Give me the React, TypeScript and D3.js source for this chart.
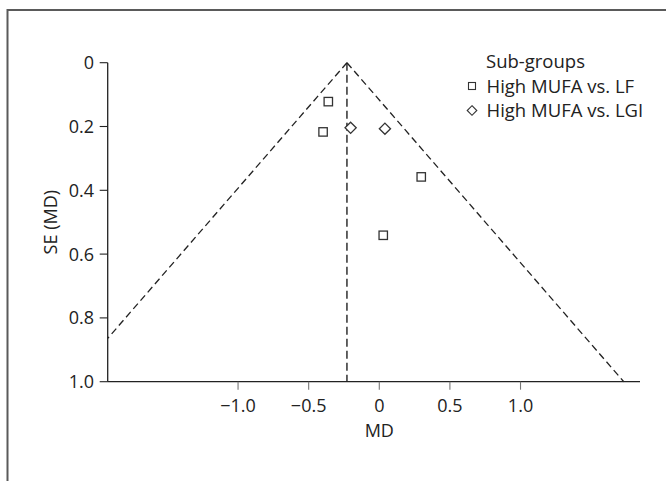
import React from "react";
import * as d3 from "d3";

const seriesNames = ["High MUFA vs. LF", "High MUFA vs. LGI"];
const lfMD = [-0.361, -0.398, 0.297, 0.028];
const lfSE = [0.122, 0.217, 0.358, 0.541];
const lgiMD = [-0.203, 0.04];
const lgiSE = [0.204, 0.207];
const pooledMD = -0.229;
const xTicks = [-1, -0.5, 0, 0.5, 1];
const xTickLabels = ["\u22121.0", "\u22120.5", "0", "0.5", "1.0"];
const yTicks = [0, 0.2, 0.4, 0.6, 0.8, 1.0];
const yTickLabels = ["0", "0.2", "0.4", "0.6", "0.8", "1.0"];

const W = 666;
const H = 481;
const FONT = "'Open Sans', sans-serif";
const INK = "#222";

export default function App() {
  const x = d3.scaleLinear().domain([-1.923, 1.846]).range([107.7, 640]);
  const y = d3.scaleLinear().domain([0, 1]).range([62.7, 381.7]);

  const seMaxLeft = (pooledMD - x.domain()[0]) / 1.96;
  const leftLine = d3.line<[number, number]>()
    .x((d) => x(d[0]))
    .y((d) => y(d[1]))([
    [pooledMD, 0],
    [pooledMD - 1.96 * seMaxLeft, seMaxLeft],
  ]);
  const rightLine = d3.line<[number, number]>()
    .x((d) => x(d[0]))
    .y((d) => y(d[1]))([
    [pooledMD, 0],
    [pooledMD + 1.96 * 1.0, 1.0],
  ]);

  const sq = 8.4;
  const dm = 5.6;
  const diamondPath = (cx: number, cy: number, r: number) =>
    `M${cx},${cy - r}L${cx + r},${cy}L${cx},${cy + r}L${cx - r},${cy}Z`;

  return (
    <svg
      width={W}
      height={H}
      style={{ position: "absolute", left: 0, top: 0, background: "#fff" }}
      fontFamily={FONT}
    >
      {/* frame */}
      <line x1={7.5} y1={10} x2={W} y2={10} stroke="#5a5a5a" strokeWidth={2} />
      <line x1={7.5} y1={9} x2={7.5} y2={H} stroke="#5a5a5a" strokeWidth={2} />

      {/* axes */}
      <line x1={x.range()[0]} y1={y(0)} x2={x.range()[0]} y2={y(1)} stroke={INK} strokeWidth={1.3} />
      <line x1={x.range()[0]} y1={y(1)} x2={x.range()[1]} y2={y(1)} stroke={INK} strokeWidth={1.3} />

      {yTicks.map((t, i) => (
        <g key={"y" + i}>
          <line x1={x.range()[0] - 8} x2={x.range()[0]} y1={y(t)} y2={y(t)} stroke={INK} strokeWidth={1.1} />
          <text x={94} y={y(t)} dy="0.36em" textAnchor="end" fontSize={18} fill={INK}>
            {yTickLabels[i]}
          </text>
        </g>
      ))}
      {xTicks.map((t, i) => (
        <g key={"x" + i}>
          <line x1={x(t)} x2={x(t)} y1={y(1)} y2={y(1) + 8} stroke="#777" strokeWidth={1.1} />
          <text x={x(t)} y={412} textAnchor="middle" fontSize={18} fill={INK}>
            {xTickLabels[i]}
          </text>
        </g>
      ))}

      <text x={x(0)} y={437} textAnchor="middle" fontSize={18} fill={INK}>MD</text>
      <text
        transform={`translate(56.5,${(y(0) + y(1)) / 2}) rotate(-90)`}
        textAnchor="middle"
        fontSize={18}
        fill={INK}
      >
        SE (MD)
      </text>

      {/* funnel */}
      <path d={leftLine || ""} fill="none" stroke={INK} strokeWidth={1.3} strokeDasharray="7,4" />
      <path d={rightLine || ""} fill="none" stroke={INK} strokeWidth={1.3} strokeDasharray="7,4" />
      <line
        x1={x(pooledMD)}
        x2={x(pooledMD)}
        y1={y(0)}
        y2={y(1)}
        stroke={INK}
        strokeWidth={1.4}
        strokeDasharray="8,4"
      />

      {/* points */}
      {lfMD.map((m, i) => (
        <rect
          key={"lf" + i}
          x={x(m) - sq / 2}
          y={y(lfSE[i]) - sq / 2}
          width={sq}
          height={sq}
          fill="#fff"
          stroke="#333"
          strokeWidth={1.3}
        />
      ))}
      {lgiMD.map((m, i) => (
        <path
          key={"lgi" + i}
          d={diamondPath(x(m), y(lgiSE[i]), dm)}
          fill="#fff"
          stroke="#333"
          strokeWidth={1.3}
        />
      ))}

      {/* legend */}
      <text x={486} y={68} fontSize={18.5} fill={INK}>Sub-groups</text>
      <rect x={468.5} y={82.5} width={7} height={7} fill="#fff" stroke="#333" strokeWidth={1.1} />
      <text x={486.5} y={92.5} fontSize={18.5} fill={INK}>{seriesNames[0]}</text>
      <path d={diamondPath(472, 110.5, 4.8)} fill="#fff" stroke="#333" strokeWidth={1.1} />
      <text x={486.5} y={116.5} fontSize={18.5} fill={INK}>{seriesNames[1]}</text>
    </svg>
  );
}
